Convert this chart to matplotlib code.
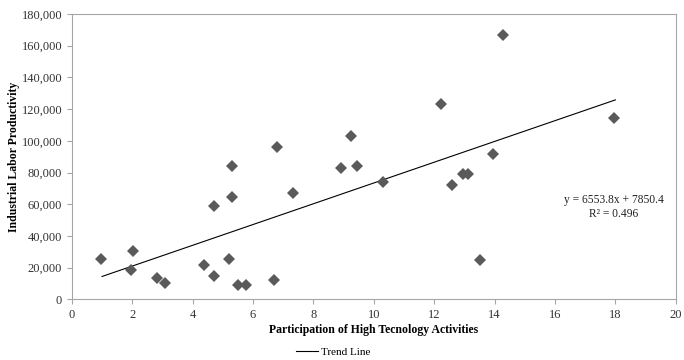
import numpy as np
import matplotlib
matplotlib.use("Agg")
import matplotlib.pyplot as plt
from matplotlib.ticker import FuncFormatter

plt.rcParams['font.family'] = ['Liberation Serif', 'DejaVu Serif']

# participation of high technology activities (x) vs industrial labor productivity (y)
hitech = [0.98, 1.95, 2.04, 2.83, 3.07, 4.37, 4.70, 4.72, 5.22, 5.29, 5.32, 5.51, 5.76, 6.69,
          6.78, 7.33, 8.90, 9.23, 9.43, 10.31, 12.22, 12.59, 12.96, 13.12, 13.51, 13.96, 14.27, 17.95]
productivity = [25200, 18500, 30700, 13200, 10500, 21800, 14700, 58900, 25200, 64700, 84100, 8800,
                8800, 12200, 96300, 67300, 82600, 103000, 84300, 73800, 123400, 72300, 79100, 79100,
                24600, 91900, 166800, 114400]

slope = 6553.8
intercept = 7850.4
r2 = 0.496

fig = plt.figure(figsize=(6.84, 3.6), dpi=100)
ax = fig.add_axes([0.105, 0.1686, 0.883, 0.7925])

ax.plot(hitech, productivity, 'D', color='#5a5a5a', markersize=6, markeredgewidth=0, zorder=3)

xs = np.array([1, 18])
ax.plot(xs, slope * xs + intercept, color='black', linewidth=0.8, label='Trend Line', zorder=2)

ax.set_xlim(0, 20)
ax.set_ylim(0, 180000)
ax.set_xticks(range(0, 21, 2))
ax.set_yticks(range(0, 180001, 20000))
ax.yaxis.set_major_formatter(FuncFormatter(lambda v, p: f'{int(v):,}'))

for s in ax.spines.values():
    s.set_color('#a6a6a6')
    s.set_linewidth(0.8)
ax.tick_params(axis='both', labelsize=9, colors='#a6a6a6', labelcolor='#333333', length=3.5, width=0.8)

ax.set_xlabel('Participation of High Tecnology Activities', fontsize=8.5, fontweight='bold', labelpad=2)
ax.set_ylabel('Industrial Labor Productivity', fontsize=8.5, fontweight='bold')
ax.yaxis.set_label_coords(-0.085, 0.5)

ax.text(17.95, 58000, f'y = {slope}x + {intercept}\nR² = {r2}', fontsize=8.3, ha='center', va='center',
        color='#222222', linespacing=1.2)

fig.legend(loc='center', bbox_to_anchor=(0.487, 0.022), frameon=False, fontsize=8,
           handlelength=2.0, handletextpad=0.2)

fig.savefig('out.png', dpi=100)
